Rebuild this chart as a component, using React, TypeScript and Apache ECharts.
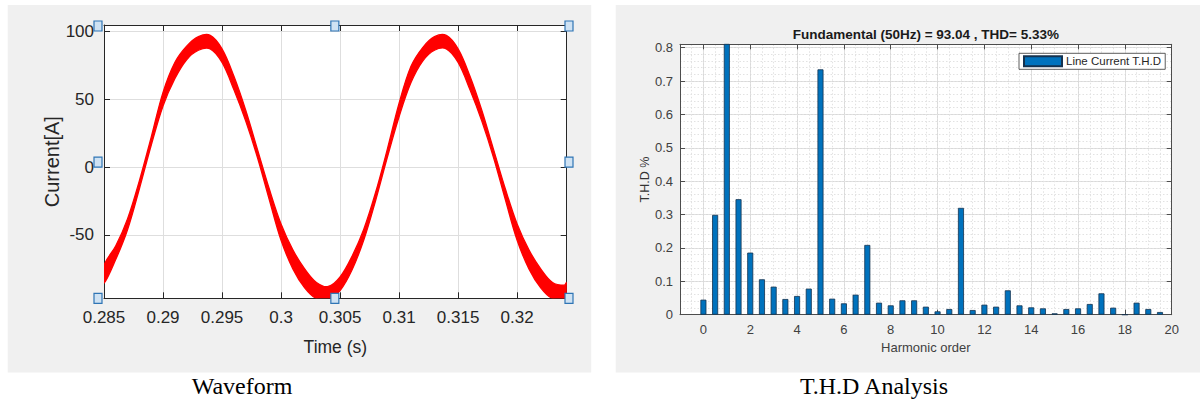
import React, { useEffect, useRef } from "react";
import * as echarts from "echarts";

// ---------- Waveform (left) ----------
const timeS = [
  0.285, 0.286, 0.287, 0.288, 0.289, 0.29, 0.291, 0.292, 0.293, 0.294,
  0.295, 0.296, 0.297, 0.298, 0.299, 0.3, 0.301, 0.302, 0.303, 0.304,
  0.305, 0.306, 0.307, 0.308, 0.309, 0.31, 0.311, 0.312, 0.313, 0.314,
  0.315, 0.316, 0.317, 0.318, 0.319, 0.32, 0.321, 0.322, 0.323, 0.324, 0.3242,
];
const currentUpper = [
  -72.5, -58, -38, -10, 22, 55, 77, 89, 96, 97,
  87, 67, 42, 13, -16, -42, -61, -75, -85, -88,
  -81, -66, -46, -19, 13, 47, 74, 88, 96, 97,
  87, 67, 42, 13, -16, -42, -61, -75, -85, -87, -85,
];
const currentLower = [
  -85.5, -68, -46, -16, 16, 45, 65, 79, 86, 87,
  77, 57, 34, 7, -24, -54, -75, -89, -97, -98,
  -91, -76, -54, -25, 7, 37, 62, 78, 86, 87,
  77, 57, 34, 7, -24, -54, -75, -89, -97, -97, -95,
];
const timeTicks = [0.285, 0.29, 0.295, 0.3, 0.305, 0.31, 0.315, 0.32];
const currentTicks = [-50, 0, 50, 100];

// ---------- THD spectrum (right) ----------
const harmonicOrder = [
  0, 0.5, 1, 1.5, 2, 2.5, 3, 3.5, 4, 4.5,
  5, 5.5, 6, 6.5, 7, 7.5, 8, 8.5, 9, 9.5,
  10, 10.5, 11, 11.5, 12, 12.5, 13, 13.5, 14, 14.5,
  15, 15.5, 16, 16.5, 17, 17.5, 18, 18.5, 19, 19.5,
];
const thdPercent = [
  0.045, 0.299, 100, 0.346, 0.186, 0.106, 0.084, 0.047, 0.056, 0.078,
  0.735, 0.048, 0.034, 0.06, 0.209, 0.036, 0.028, 0.043, 0.043, 0.024,
  0.01, 0.017, 0.32, 0.014, 0.03, 0.024, 0.073, 0.028, 0.022, 0.019,
  0.004, 0.017, 0.019, 0.032, 0.064, 0.021, 0, 0.036, 0.017, 0.008,
];
const harmonicTicks = [0, 2, 4, 6, 8, 10, 12, 14, 16, 18, 20];
const thdTicks = [0, 0.1, 0.2, 0.3, 0.4, 0.5, 0.6, 0.7, 0.8];

const TITLE = "Fundamental (50Hz) = 93.04 , THD= 5.33%";

const SANS = '"Liberation Sans", Arial, sans-serif';
const SERIF = '"Liberation Serif", "Times New Roman", serif';

const G1 = { left: 104, top: 25, width: 462.7, height: 273.3 };
const G2 = { left: 680, top: 44.3, width: 491.7, height: 270.4 };

export default function App() {
  const ref = useRef<HTMLDivElement>(null);

  useEffect(() => {
    if (!ref.current) return;
    const chart = echarts.init(ref.current, undefined, { renderer: "svg" });

    const bandData = timeS.map((t, i) => [t, currentUpper[i], currentLower[i]]);
    const barData = harmonicOrder.map((h, i) => [h, thdPercent[i]]);

    const leftAxisLine = { show: true, onZero: false, lineStyle: { color: "#262626", width: 1 } };
    const rightAxisLine = { show: true, onZero: false, lineStyle: { color: "#4d4d4d", width: 1 } };
    const hiddenLine = { show: false, onZero: false };

    const handles: any[] = [];
    const hx = [G1.left - 6, G1.left + G1.width / 2 - 0.5, G1.left + G1.width + 2.3];
    const hy = [G1.top + 1, G1.top + G1.height / 2 + 0.5, G1.top + G1.height];
    for (let i = 0; i < 3; i++) {
      for (let j = 0; j < 3; j++) {
        if (i === 1 && j === 1) continue;
        handles.push({
          type: "rect",
          z: 100,
          shape: { x: hx[i] - 4, y: hy[j] - 5, width: 8, height: 10 },
          style: { fill: "#cfe2f3", stroke: "#2f75b5", lineWidth: 1.2 },
        });
      }
    }

    const renderBand = (params: any, api: any) => {
      if (params.dataIndex !== 0) return null;
      const upperPts = bandData.map((d) => api.coord([d[0], d[1]]));
      const lowerPts = bandData.map((d) => api.coord([d[0], d[2]])).reverse();
      const cs = params.coordSys;
      return {
        type: "polygon",
        shape: { points: upperPts.concat(lowerPts), smooth: 0.35 },
        style: { fill: "#ff0000", stroke: "#ff0000", lineWidth: 1.3 },
        clipPath: {
          type: "rect",
          shape: { x: cs.x, y: cs.y, width: cs.width, height: cs.height },
        },
      };
    };

    const option: any = {
      animation: false,
      backgroundColor: "#ffffff",
      grid: [
        { ...G1, show: true, backgroundColor: "#ffffff", borderWidth: 0 },
        { ...G2, show: true, backgroundColor: "#ffffff", borderWidth: 0 },
      ],
      legend: {
        data: ["Line Current T.H.D"],
        left: 1019,
        top: 53.3,
        orient: "horizontal",
        icon: "rect",
        itemWidth: 38,
        itemHeight: 10,
        itemGap: 0,
        padding: [2, 4, 2, 4],
        backgroundColor: "#ffffff",
        borderColor: "#333333",
        borderWidth: 0.8,
        borderRadius: 0,
        textStyle: { fontSize: 11.5, color: "#262626", fontFamily: SANS, padding: [0, 0, 0, -1] },
      },
      xAxis: [
        {
          gridIndex: 0,
          type: "value",
          position: "bottom",
          min: 0.285,
          max: 0.3242,
          axisLine: leftAxisLine,
          axisTick: { inside: true, length: 6, customValues: timeTicks, lineStyle: { color: "#262626" } },
          axisLabel: {
            customValues: timeTicks,
            margin: 11,
            fontSize: 17,
            fontFamily: SANS,
            color: "#262626",
            formatter: (v: number) => String(v),
          },
          splitLine: { show: true, lineStyle: { color: "#dedede", width: 1 } },
          name: "Time (s)",
          nameLocation: "middle",
          nameGap: 40,
          nameTextStyle: { fontSize: 17.5, fontFamily: SANS, color: "#262626" },
        },
        {
          gridIndex: 0,
          type: "value",
          position: "top",
          min: 0.285,
          max: 0.3242,
          axisLine: leftAxisLine,
          axisTick: { inside: true, length: 6, customValues: timeTicks, lineStyle: { color: "#262626" } },
          axisLabel: { show: false },
          splitLine: { show: false },
        },
        {
          gridIndex: 1,
          type: "value",
          position: "bottom",
          min: -1,
          max: 20,
          axisLine: rightAxisLine,
          axisTick: { inside: true, length: 5, customValues: harmonicTicks, lineStyle: { color: "#4d4d4d" } },
          axisLabel: {
            customValues: harmonicTicks,
            margin: 8,
            fontSize: 13,
            fontFamily: SANS,
            color: "#404040",
          },
          splitLine: { show: true, lineStyle: { color: "#d9d9d9", width: 1 } },
          name: "Harmonic order",
          nameLocation: "middle",
          nameGap: 24,
          nameTextStyle: { fontSize: 13, fontFamily: SANS, color: "#404040" },
        },
        {
          gridIndex: 1,
          type: "value",
          position: "top",
          min: -1,
          max: 20,
          axisLine: rightAxisLine,
          axisTick: { inside: true, length: 5, customValues: harmonicTicks, lineStyle: { color: "#4d4d4d" } },
          axisLabel: { show: false },
          splitLine: { show: false },
        },
        {
          gridIndex: 1,
          type: "value",
          position: "bottom",
          min: -1,
          max: 20,
          interval: 0.5,
          axisLine: hiddenLine,
          axisTick: { show: false },
          axisLabel: { show: false },
          splitLine: { show: true, lineStyle: { color: "#e2e2e2", width: 1, type: [1.5, 2] } },
        },
      ],
      yAxis: [
        {
          gridIndex: 0,
          type: "value",
          position: "left",
          min: -96.7,
          max: 104.6,
          axisLine: leftAxisLine,
          axisTick: { inside: true, length: 6, customValues: currentTicks, lineStyle: { color: "#262626" } },
          axisLabel: {
            customValues: currentTicks,
            margin: 10,
            fontSize: 17,
            fontFamily: SANS,
            color: "#262626",
          },
          splitLine: { show: true, lineStyle: { color: "#dedede", width: 1 } },
          name: "Current[A]",
          nameLocation: "middle",
          nameGap: 36,
          nameTextStyle: { fontSize: 20, fontFamily: SANS, color: "#262626" },
        },
        {
          gridIndex: 0,
          type: "value",
          position: "right",
          min: -96.7,
          max: 104.6,
          axisLine: leftAxisLine,
          axisTick: { inside: true, length: 6, customValues: currentTicks, lineStyle: { color: "#262626" } },
          axisLabel: { show: false },
          splitLine: { show: false },
        },
        {
          gridIndex: 1,
          type: "value",
          position: "left",
          min: 0,
          max: 0.81,
          interval: 0.1,
          axisLine: rightAxisLine,
          axisTick: { inside: true, length: 5, customValues: thdTicks, lineStyle: { color: "#4d4d4d" } },
          axisLabel: {
            customValues: thdTicks,
            margin: 7,
            fontSize: 13,
            fontFamily: SANS,
            color: "#404040",
          },
          splitLine: { show: true, lineStyle: { color: "#d9d9d9", width: 1 } },
          name: "T.H.D %",
          nameLocation: "middle",
          nameGap: 28,
          nameTextStyle: { fontSize: 12.5, fontFamily: SANS, color: "#333333" },
        },
        {
          gridIndex: 1,
          type: "value",
          position: "right",
          min: 0,
          max: 0.81,
          interval: 0.1,
          axisLine: rightAxisLine,
          axisTick: { inside: true, length: 5, customValues: thdTicks, lineStyle: { color: "#4d4d4d" } },
          axisLabel: { show: false },
          splitLine: { show: false },
        },
        {
          gridIndex: 1,
          type: "value",
          position: "left",
          min: 0,
          max: 0.81,
          interval: 0.02,
          axisLine: hiddenLine,
          axisTick: { show: false },
          axisLabel: { show: false },
          splitLine: { show: true, lineStyle: { color: "#e2e2e2", width: 1, type: [1.5, 2] } },
        },
      ],
      series: [
        {
          type: "custom",
          name: "Current",
          xAxisIndex: 0,
          yAxisIndex: 0,
          data: bandData,
          encode: { x: 0, y: [1, 2] },
          renderItem: renderBand,
          silent: true,
          clip: true,
          z: 3,
        },
        {
          type: "bar",
          name: "Line Current T.H.D",
          xAxisIndex: 2,
          yAxisIndex: 2,
          data: barData,
          barWidth: 6,
          clip: true,
          itemStyle: { color: "#0072BD", borderColor: "#14324f", borderWidth: 0.8 },
          z: 3,
        },
      ],
      graphic: [
        {
          type: "rect",
          z: -10,
          silent: true,
          shape: { x: 7.7, y: 5, width: 583.5, height: 367.5 },
          style: { fill: "#f0f0f0" },
        },
        {
          type: "rect",
          z: -10,
          silent: true,
          shape: { x: 615.7, y: 5, width: 584.3, height: 367.5 },
          style: { fill: "#f0f0f0" },
        },
        ...handles,
        {
          type: "text",
          z: 50,
          x: G2.left + G2.width / 2,
          y: 34,
          style: {
            text: TITLE,
            fontSize: 13.5,
            fontWeight: "bold",
            fontFamily: SANS,
            fill: "#1a1a1a",
            align: "center",
            verticalAlign: "middle",
          },
        },
        {
          type: "text",
          z: 50,
          x: 242,
          y: 386,
          style: {
            text: "Waveform",
            fontSize: 24,
            fontFamily: SERIF,
            fill: "#000000",
            align: "center",
            verticalAlign: "middle",
          },
        },
        {
          type: "text",
          z: 50,
          x: 874,
          y: 386,
          style: {
            text: "T.H.D Analysis",
            fontSize: 24,
            fontFamily: SERIF,
            fill: "#000000",
            align: "center",
            verticalAlign: "middle",
          },
        },
      ],
    };

    chart.setOption(option);
    return () => {
      chart.dispose();
    };
  }, []);

  return (
    <div
      ref={ref}
      style={{ position: "absolute", left: 0, top: 0, width: 1200, height: 401 }}
    />
  );
}
